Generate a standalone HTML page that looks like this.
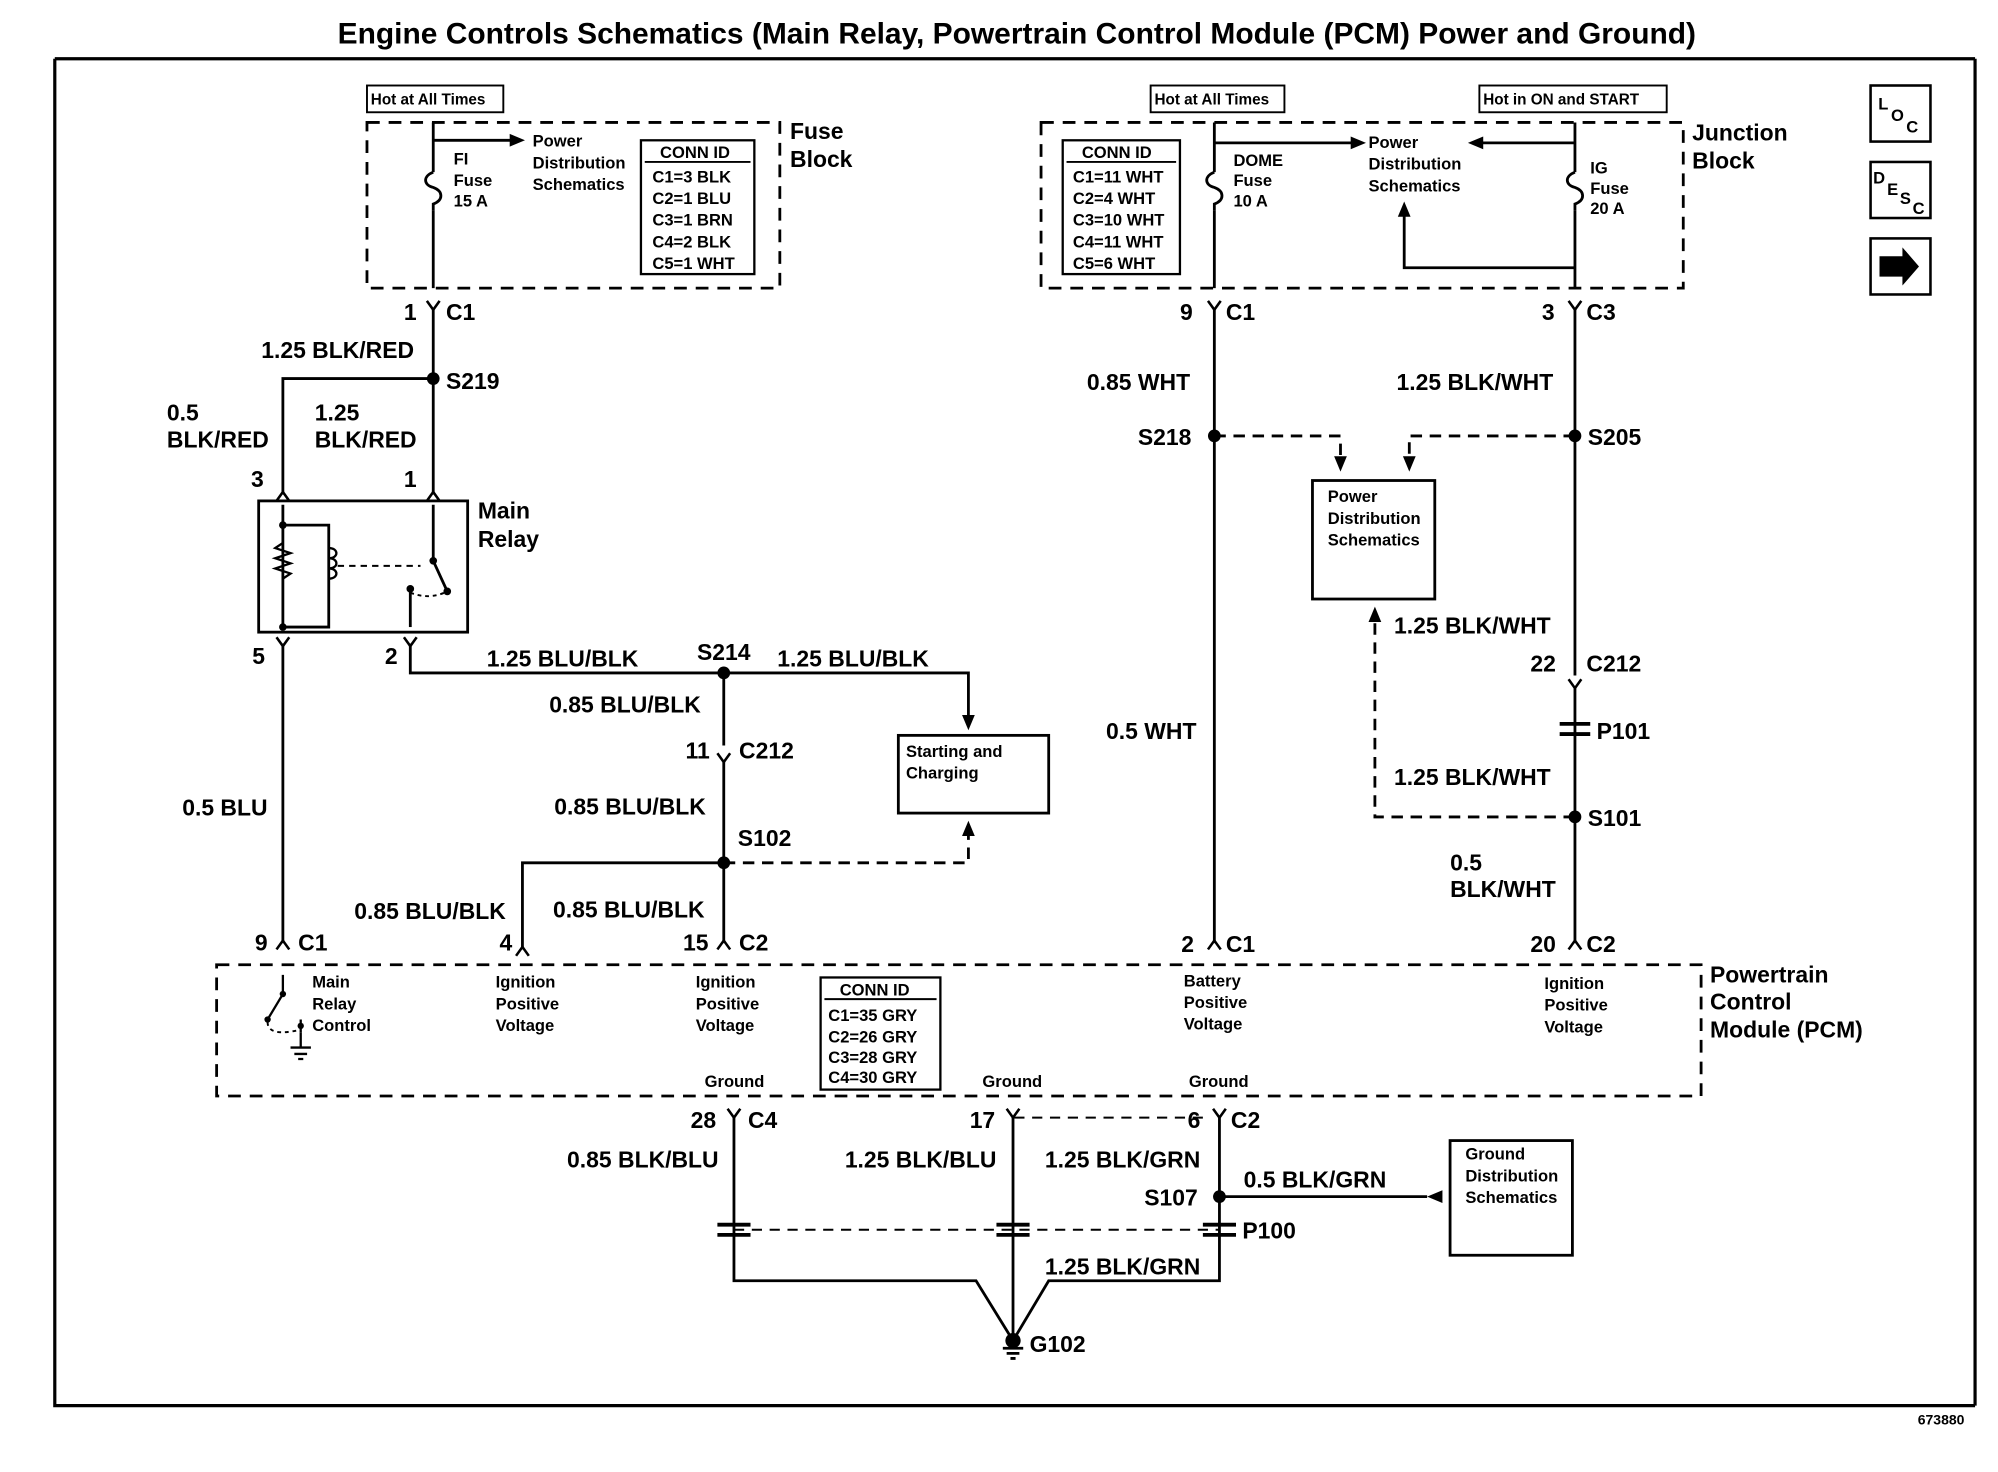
<!DOCTYPE html>
<html><head><meta charset="utf-8"><style>
html,body{margin:0;padding:0;background:#fff}
svg{display:block}
text{font-family:"Liberation Sans",Arial,sans-serif;fill:#000}
.b{font-weight:bold;font-size:18px}
.s{font-size:13px;font-weight:bold}
.t{font-size:12px}
</style></head><body>
<svg width="1998" height="1472" viewBox="0 0 1568 1155" xmlns="http://www.w3.org/2000/svg">
<g stroke="#000" fill="none" stroke-width="2.2">
<path d="M43 46 H1550 M43 46 V1103 H1550 M1550 46 V1103" stroke-width="2.5"/>
<rect x="288" y="96" width="324" height="130" stroke-dasharray="10,7"/>
<rect x="288" y="67" width="107" height="21" stroke-width="1.5"/>
<rect x="503" y="110" width="89" height="105" stroke-width="1.8"/>
<path d="M506 127 H589" stroke-width="1.5"/>
<path d="M340 96 V135 M340 165 V226"/>
<path d="M340 135 c-8 3 -8 10 0 12 c8 3 8 10 0 13 v5" />
<path d="M340 110 H405"/>
<rect x="817" y="96" width="504" height="130" stroke-dasharray="10,7"/>
<rect x="903" y="67" width="105" height="21" stroke-width="1.5"/>
<rect x="1161" y="67" width="147" height="21" stroke-width="1.5"/>
<rect x="834" y="110" width="92" height="105" stroke-width="1.8"/>
<path d="M837 127 H923" stroke-width="1.5"/>
<path d="M953 96 V135 M953 165 V226"/>
<path d="M953 135 c-8 3 -8 10 0 12 c8 3 8 10 0 13 v5"/>
<path d="M953 112 H1062"/>
<path d="M1236 96 V135 M1236 165 V226"/>
<path d="M1236 135 c-8 3 -8 10 0 12 c8 3 8 10 0 13 v5"/>
<path d="M1236 112 H1162"/>
<path d="M1236 210 H1102 V168"/>
<path d="M340 243 V388"/>
<path d="M340 297 H222 V388"/>
<rect x="203" y="393" width="164" height="103"/>
<path d="M222 396 V492 M222 412 H258 V492 H222"/>
<path d="M222 426 l-6 4 l12 4 l-12 4 l12 4 l-12 4 l12 4 l-6 4" stroke-width="1.8"/>
<path d="M258 430 c8 0 8 8 0 8 c8 0 8 8 0 8 c8 0 8 8 0 8" stroke-width="1.8"/>
<path d="M265 444 H330" stroke-dasharray="5,4" stroke-width="1.5"/>
<path d="M340 396 V440 L351 464"/>
<path d="M322 462 V492"/>
<path d="M322 465 q15 6 29 -1" stroke-dasharray="3,3" stroke-width="1.5"/>
<path d="M222 505 V740"/>
<path d="M322 505 V528 H760 V565"/>
<path d="M568 528 V585 M568 598 V740"/>
<path d="M568 677 H410 V745"/>
<path d="M568 677 H760 V652" stroke-dasharray="9,6"/>
<rect x="705" y="577" width="118" height="61"/>
<path d="M953 243 V740"/>
<path d="M1236 243 V530"/>
<path d="M953 342 H1052 V362" stroke-dasharray="9,6"/>
<path d="M1236 342 H1106 V362" stroke-dasharray="9,6"/>
<rect x="1030" y="377" width="96" height="93"/>
<path d="M1236 540 V740"/>
<path d="M1236 641 H1079 V485" stroke-dasharray="9,6"/>
<rect x="170" y="757" width="1165" height="103" stroke-dasharray="10,7"/>
<rect x="644" y="767" width="94" height="88" stroke-width="1.8"/>
<path d="M647 784 H735" stroke-width="1.5"/>
<path d="M222 765 V780 L210 800 M236 800 V810" stroke-width="1.8"/>
<path d="M210 802 q0 12 26 6" stroke-dasharray="3,3" stroke-width="1.5"/>
<path d="M236 810 V822 M228 822 H244 M231 827 H241 M234 831 H238" stroke-width="1.8"/>
<path d="M576 877 V1005 H766 L795 1052 L823 1005 H957 V877"/>
<path d="M795 877 V1052"/>
<path d="M957 939 H1120"/>
<path d="M576 965 H957" stroke-dasharray="8,6" stroke-width="1.5"/>
<path d="M796 877 H950" stroke-dasharray="8,6" stroke-width="1.5"/>
<rect x="1138" y="895" width="96" height="90"/>
<path d="M787 1058 H803 M790 1062 H800 M793 1066 H797"/>
<rect x="1468" y="67" width="47" height="44" stroke-width="2"/>
<rect x="1468" y="127" width="47" height="44" stroke-width="2"/>
<rect x="1468" y="187" width="47" height="44" stroke-width="2"/>
</g>
<g fill="#000" stroke="none">
<polygon points="412,110 400,105 400,115"/>
<polygon points="1072,112 1060,107 1060,117"/>
<polygon points="1152,112 1164,107 1164,117"/>
<polygon points="1102,158 1097,170 1107,170"/>
<polygon points="760,573 755,561 765,561"/>
<polygon points="760,644 755,656 765,656"/>
<polygon points="1052,370 1047,358 1057,358"/>
<polygon points="1106,370 1101,358 1111,358"/>
<polygon points="1079,476 1074,488 1084,488"/>
<polygon points="1120,939 1132,934 1132,944"/>
<circle cx="340" cy="297" r="5"/><circle cx="568" cy="528" r="5"/><circle cx="568" cy="677" r="5"/>
<circle cx="953" cy="342" r="5"/><circle cx="1236" cy="342" r="5"/><circle cx="1236" cy="641" r="5"/>
<circle cx="957" cy="939" r="5"/><circle cx="795" cy="1052" r="6"/>
<circle cx="222" cy="412" r="3"/><circle cx="222" cy="492" r="3"/><circle cx="340" cy="440" r="3"/><circle cx="351" cy="464" r="3"/><circle cx="322" cy="462" r="3"/>
<circle cx="222" cy="780" r="2.5"/><circle cx="210" cy="800" r="2.5"/><circle cx="236" cy="805" r="2.5"/>
<polygon points="1475,201 1493,201 1493,194 1506,209 1493,224 1493,217 1475,217"/>
</g>
<g stroke="#000" fill="none" stroke-width="2">
<path d="M335 236 L340 243 L345 236 M948 236 L953 243 L958 236 M1231 236 L1236 243 L1241 236"/>
<path d="M217 393 L222 386 L227 393 M335 393 L340 386 L345 393"/>
<path d="M217 500 L222 507 L227 500 M317 500 L322 507 L327 500"/>
<path d="M563 591 L568 598 L573 591 M1231 533 L1236 540 L1241 533"/>
<path d="M217 745 L222 738 L227 745 M405 750 L410 743 L415 750 M563 745 L568 738 L573 745 M948 745 L953 738 L958 745 M1231 745 L1236 738 L1241 745"/>
<path d="M571 870 L576 877 L581 870 M790 870 L795 877 L800 870 M952 870 L957 877 L962 870"/>
<path d="M1224 568 H1248 M1224 576 H1248" stroke-width="3"/>
<path d="M563 961 H589 M563 969 H589 M782 961 H808 M782 969 H808 M944 961 H970 M944 969 H970" stroke-width="3"/>
</g>
<text x="798" y="34" text-anchor="middle" style="font-weight:bold;font-size:23.5px">Engine Controls Schematics (Main Relay, Powertrain Control Module (PCM) Power and Ground)</text>
<text class="t" x="291" y="82" style="font-weight:bold">Hot at All Times</text>
<text class="t" x="906" y="82" style="font-weight:bold">Hot at All Times</text>
<text class="t" x="1164" y="82" style="font-weight:bold">Hot in ON and START</text>
<text class="b" x="620" y="109">Fuse</text><text class="b" x="620" y="131">Block</text>
<text class="b" x="1328" y="110">Junction</text><text class="b" x="1328" y="132">Block</text>
<g class="s"><text class="s" x="356" y="129">FI</text><text class="s" x="356" y="146">Fuse</text><text class="s" x="356" y="162">15 A</text>
<text class="s" x="418" y="115">Power</text><text class="s" x="418" y="132">Distribution</text><text class="s" x="418" y="149">Schematics</text>
<text class="s" x="518" y="124">CONN ID</text>
<text class="s" x="512" y="143">C1=3 BLK</text><text class="s" x="512" y="160">C2=1 BLU</text><text class="s" x="512" y="177">C3=1 BRN</text><text class="s" x="512" y="194">C4=2 BLK</text><text class="s" x="512" y="211">C5=1 WHT</text>
<text class="s" x="849" y="124">CONN ID</text>
<text class="s" x="842" y="143">C1=11 WHT</text><text class="s" x="842" y="160">C2=4 WHT</text><text class="s" x="842" y="177">C3=10 WHT</text><text class="s" x="842" y="194">C4=11 WHT</text><text class="s" x="842" y="211">C5=6 WHT</text>
<text class="s" x="968" y="130">DOME</text><text class="s" x="968" y="146">Fuse</text><text class="s" x="968" y="162">10 A</text>
<text class="s" x="1074" y="116">Power</text><text class="s" x="1074" y="133">Distribution</text><text class="s" x="1074" y="150">Schematics</text>
<text class="s" x="1248" y="136">IG</text><text class="s" x="1248" y="152">Fuse</text><text class="s" x="1248" y="168">20 A</text>
<text class="s" x="1042" y="394">Power</text><text class="s" x="1042" y="411">Distribution</text><text class="s" x="1042" y="428">Schematics</text>
<text class="s" x="711" y="594">Starting and</text><text class="s" x="711" y="611">Charging</text>
<text class="s" x="1150" y="910">Ground</text><text class="s" x="1150" y="927">Distribution</text><text class="s" x="1150" y="944">Schematics</text>
<text class="s" x="245" y="775">Main</text><text class="s" x="245" y="792">Relay</text><text class="s" x="245" y="809">Control</text>
<text class="s" x="389" y="775">Ignition</text><text class="s" x="389" y="792">Positive</text><text class="s" x="389" y="809">Voltage</text>
<text class="s" x="546" y="775">Ignition</text><text class="s" x="546" y="792">Positive</text><text class="s" x="546" y="809">Voltage</text>
<text class="s" x="929" y="774">Battery</text><text class="s" x="929" y="791">Positive</text><text class="s" x="929" y="808">Voltage</text>
<text class="s" x="1212" y="776">Ignition</text><text class="s" x="1212" y="793">Positive</text><text class="s" x="1212" y="810">Voltage</text>
<text class="s" x="659" y="781">CONN ID</text>
<text class="s" x="650" y="801">C1=35 GRY</text><text class="s" x="650" y="818">C2=26 GRY</text><text class="s" x="650" y="834">C3=28 GRY</text><text class="s" x="650" y="850">C4=30 GRY</text>
<text class="s" x="553" y="853">Ground</text><text class="s" x="771" y="853">Ground</text><text class="s" x="933" y="853">Ground</text>
<text class="t" x="1505" y="1118" style="font-size:11px">673880</text>
</g>
<text class="b" x="1342" y="771">Powertrain</text><text class="b" x="1342" y="792">Control</text><text class="b" x="1342" y="814">Module (PCM)</text>
<text class="b" x="375" y="407">Main</text><text class="b" x="375" y="429">Relay</text>
<g class="b">
<text class="b" x="317" y="251">1</text><text class="b" x="350" y="251">C1</text>
<text class="b" x="205" y="281">1.25 BLK/RED</text>
<text class="b" x="350" y="305">S219</text>
<text class="b" x="131" y="330">0.5</text><text class="b" x="131" y="351">BLK/RED</text>
<text class="b" x="247" y="330">1.25</text><text class="b" x="247" y="351">BLK/RED</text>
<text class="b" x="197" y="382">3</text><text class="b" x="317" y="382">1</text>
<text class="b" x="198" y="521">5</text><text class="b" x="302" y="521">2</text>
<text class="b" x="382" y="523">1.25 BLU/BLK</text>
<text class="b" x="547" y="518">S214</text>
<text class="b" x="610" y="523">1.25 BLU/BLK</text>
<text class="b" x="431" y="559">0.85 BLU/BLK</text>
<text class="b" x="538" y="595">11</text><text class="b" x="580" y="595">C212</text>
<text class="b" x="143" y="640">0.5 BLU</text>
<text class="b" x="435" y="639">0.85 BLU/BLK</text>
<text class="b" x="579" y="664">S102</text>
<text class="b" x="278" y="721">0.85 BLU/BLK</text>
<text class="b" x="434" y="720">0.85 BLU/BLK</text>
<text class="b" x="200" y="746">9</text><text class="b" x="234" y="746">C1</text>
<text class="b" x="392" y="746">4</text>
<text class="b" x="536" y="746">15</text><text class="b" x="580" y="746">C2</text>
<text class="b" x="926" y="251">9</text><text class="b" x="962" y="251">C1</text>
<text class="b" x="1210" y="251">3</text><text class="b" x="1245" y="251">C3</text>
<text class="b" x="853" y="306">0.85 WHT</text>
<text class="b" x="1096" y="306">1.25 BLK/WHT</text>
<text class="b" x="893" y="349">S218</text>
<text class="b" x="1246" y="349">S205</text>
<text class="b" x="1094" y="497">1.25 BLK/WHT</text>
<text class="b" x="1201" y="527">22</text><text class="b" x="1245" y="527">C212</text>
<text class="b" x="868" y="580">0.5 WHT</text>
<text class="b" x="1253" y="580">P101</text>
<text class="b" x="1094" y="616">1.25 BLK/WHT</text>
<text class="b" x="1246" y="648">S101</text>
<text class="b" x="1138" y="683">0.5</text><text class="b" x="1138" y="704">BLK/WHT</text>
<text class="b" x="927" y="747">2</text><text class="b" x="962" y="747">C1</text>
<text class="b" x="1201" y="747">20</text><text class="b" x="1245" y="747">C2</text>
<text class="b" x="542" y="885">28</text><text class="b" x="587" y="885">C4</text>
<text class="b" x="761" y="885">17</text>
<text class="b" x="932" y="885">6</text><text class="b" x="966" y="885">C2</text>
<text class="b" x="445" y="916">0.85 BLK/BLU</text>
<text class="b" x="663" y="916">1.25 BLK/BLU</text>
<text class="b" x="820" y="916">1.25 BLK/GRN</text>
<text class="b" x="976" y="932">0.5 BLK/GRN</text>
<text class="b" x="898" y="946">S107</text>
<text class="b" x="975" y="972">P100</text>
<text class="b" x="820" y="1000">1.25 BLK/GRN</text>
<text class="b" x="808" y="1061">G102</text>
</g>
<text x="1474" y="86" style="font-size:13px;font-weight:bold">L</text><text x="1484" y="95" style="font-size:13px;font-weight:bold">O</text><text x="1496" y="104" style="font-size:13px;font-weight:bold">C</text>
<text x="1470" y="144" style="font-size:13px;font-weight:bold">D</text><text x="1481" y="153" style="font-size:13px;font-weight:bold">E</text><text x="1491" y="160" style="font-size:13px;font-weight:bold">S</text><text x="1501" y="168" style="font-size:13px;font-weight:bold">C</text>
</svg>
</body></html>
